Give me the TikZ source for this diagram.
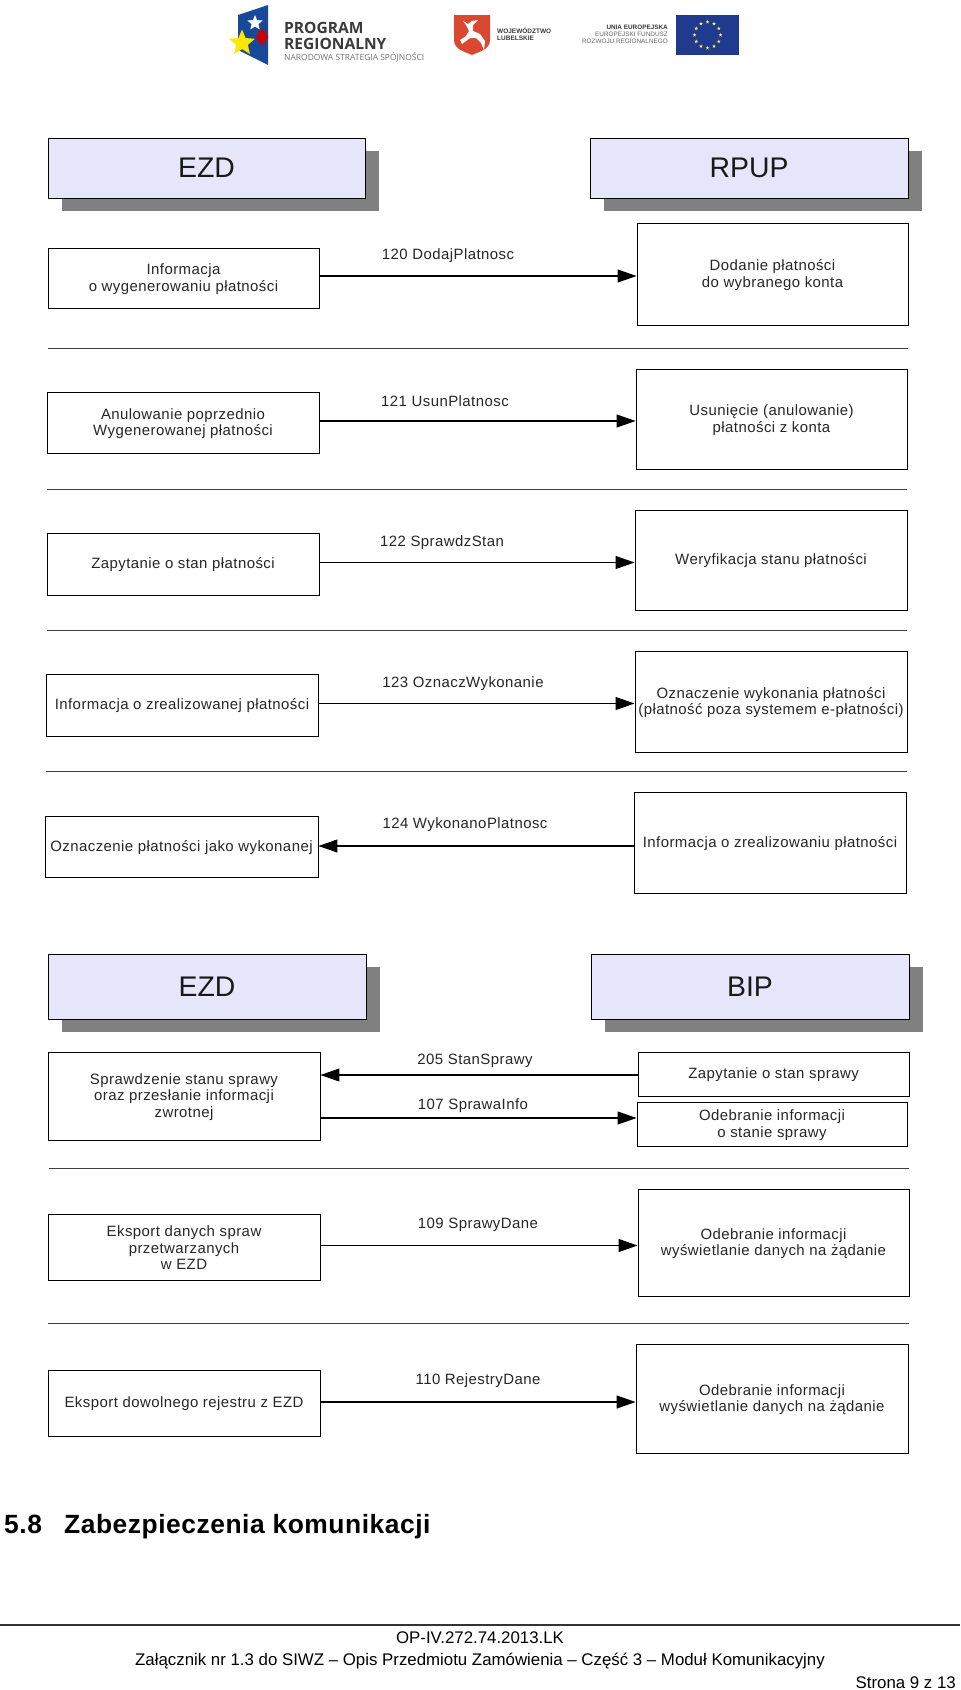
\documentclass[tikz,border=0pt]{standalone}
\usepackage{fontspec}
\setmainfont{Liberation Sans}
\newfontfamily\logofont{Open Sans}
\newfontfamily\diafont[LetterSpace=3]{Liberation Sans}
\newfontfamily\headfont[LetterSpace=2]{Liberation Sans}
\usetikzlibrary{arrows.meta,fit,shapes.geometric}
\definecolor{hdrfill}{HTML}{E6E6FA}
\definecolor{shadowgray}{HTML}{808080}
\definecolor{eublue}{HTML}{1F3A8F}
\definecolor{flagblue}{HTML}{17489A}
\definecolor{lubred}{HTML}{D9482F}
\definecolor{logotext}{HTML}{3A3A3A}
\tikzset{
  boxstyle/.style={draw=black,line width=0.9bp,fill=white,inner sep=0pt},
  boxtext/.style={inner sep=0pt,align=center,text=black!85,yshift=-1bp,font=\diafont\fontsize{15}{16.5}\selectfont},
  hdrstyle/.style={draw=black,line width=0.9bp,fill=hdrfill,inner sep=0pt},
  hdrtext/.style={inner sep=0pt,text=black!90,font=\fontsize{28.5}{30}\selectfont},
  shadowstyle/.style={fill=shadowgray,draw=none},
  flow/.style={line width=1.1bp,-{Triangle[length=19bp,width=13bp]}},
  sep/.style={line width=1bp,draw=black!75},
  lbl/.style={font=\diafont\fontsize{15}{16}\selectfont,inner sep=0pt,text=black!85},
  eustar/.style={star,star points=5,star point ratio=2.3,fill=yellow!70!white,draw=none,inner sep=0pt,minimum size=3.8bp},
}
\newcommand{\bx}[6]{%
  \coordinate (#1a) at (#2,#3);\coordinate (#1b) at (#4,#5);
  \node[boxstyle,fit=(#1a)(#1b)] (#1) {};
  \node[boxtext] (#1t) at (#1.center) {#6};}
\newcommand{\hdr}[6]{%
  \fill[shadowstyle] (#2+14,#3+13) rectangle (#4+14,#5+13);
  \coordinate (#1a) at (#2,#3);\coordinate (#1b) at (#4,#5);
  \node[hdrstyle,fit=(#1a)(#1b)] (#1) {};
  \node[hdrtext] (#1t) at (#1.center) {#6};}
\begin{document}
\begin{tikzpicture}[x=1bp,y=-1bp]
\useasboundingbox (0,0) rectangle (960,1690);
\fill[white] (0,0) rectangle (960,1690);
% logos
\fill[flagblue] (238,15) -- (268,5) -- (268,65) -- (238,50) -- cycle;
\node[star,star points=5,star point ratio=2.2,fill=white,draw=none,inner sep=0pt,minimum size=16bp] (st1) at (255,23) {};
\node[diamond,fill=red!80!black,draw=none,inner sep=0pt,minimum width=13bp,minimum height=18bp] (st2) at (262,37) {};
\node[star,star points=5,star point ratio=2.2,fill=yellow!90!orange,draw=none,inner sep=0pt,minimum size=27bp] (st3) at (242,43) {};
\node[anchor=base west,inner sep=0pt,text=logotext,font=\logofont\fontsize{15.6}{17}\selectfont] (lg1) at (284,33) {\textbf{PROGRAM}};
\node[anchor=base west,inner sep=0pt,text=logotext,font=\logofont\fontsize{15.6}{17}\selectfont] (lg2) at (284,49) {\textbf{REGIONALNY}};
\node[anchor=base west,inner sep=0pt,text=black!55,font=\logofont\fontsize{8.5}{9}\selectfont] (lg3) at (284,60) {NARODOWA STRATEGIA SPÓJNOŚCI};
\fill[lubred] (454,15) -- (490,15) -- (490,40) .. controls (490,50) and (478,52) .. (472,55) .. controls (466,52) and (454,50) .. (454,40) -- cycle;
\fill[white] (460,40) -- (466,36) -- (469,31) -- (466,25) -- (463,21) -- (468,24) -- (472,21) -- (478,20) -- (473,25) -- (473,31) -- (480,34) -- (485,41) -- (484,50) -- (481,43) -- (476,38) -- (470,38) -- (462,44) -- cycle;
\node[anchor=base west,inner sep=0pt,font=\bfseries\fontsize{6.5}{7}\selectfont,text=logotext] (lg4) at (497,33) {WOJEWÓDZTWO};
\node[anchor=base west,inner sep=0pt,font=\bfseries\fontsize{6.5}{7}\selectfont,text=logotext] (lg5) at (497,40) {LUBELSKIE};
\node[anchor=base east,inner sep=0pt,font=\bfseries\fontsize{6.4}{7}\selectfont,text=logotext] (lg6) at (668,29) {UNIA EUROPEJSKA};
\node[anchor=base east,inner sep=0pt,font=\fontsize{6.4}{7}\selectfont,text=black!60] (lg7) at (668,36) {EUROPEJSKI FUNDUSZ};
\node[anchor=base east,inner sep=0pt,font=\fontsize{6.4}{7}\selectfont,text=black!60] (lg8) at (668,43) {ROZWOJU REGIONALNEGO};
\fill[eublue] (676,15) rectangle (739,55);
\foreach \a in {0,30,...,330}{\node[eustar] (eu\a) at ({707.5+13*cos(\a)},{35+13*sin(\a)}) {};}
% first diagram
\hdr{h1}{48}{138}{365}{198}{EZD}
\hdr{h2}{590}{138}{908}{198}{RPUP}
\bx{a1}{48}{248}{319}{308}{Informacja\\o wygenerowaniu płatności}
\bx{b1}{637}{223}{908}{325}{Dodanie płatności\\do wybranego konta}
\draw[flow] (a1.east|-0,276) -- (b1.west|-0,276);
\node[lbl] (l1) at (448,256) {120 DodajPlatnosc};
\draw[sep] (48,348) coordinate (s1a) -- (908,348) coordinate (s1b);
\bx{a2}{47}{392}{319}{453}{Anulowanie poprzednio\\Wygenerowanej płatności}
\bx{b2}{636}{369}{907}{469}{Usunięcie (anulowanie)\\płatności z konta}
\draw[flow] (a2.east|-0,421) -- (b2.west|-0,421);
\node[lbl] (l2) at (445,401) {121 UsunPlatnosc};
\draw[sep] (47,489) coordinate (s2a) -- (907,489) coordinate (s2b);
\bx{a3}{47}{533}{319}{595}{Zapytanie o stan płatności}
\bx{b3}{635}{510}{907}{610}{Weryfikacja stanu płatności}
\draw[flow] (a3.east|-0,562.5) -- (b3.west|-0,562.5);
\node[lbl] (l3) at (442,543) {122 SprawdzStan};
\draw[sep] (47,630) coordinate (s3a) -- (907,630) coordinate (s3b);
\bx{a4}{46}{674}{318}{736}{Informacja o zrealizowanej płatności}
\bx{b4}{635}{651}{907}{752}{Oznaczenie wykonania płatności\\(płatność poza systemem e-płatności)}
\draw[flow] (a4.east|-0,703.5) -- (b4.west|-0,703.5);
\node[lbl] (l4) at (463,684) {123 OznaczWykonanie};
\draw[sep] (46,771) coordinate (s4a) -- (907,771) coordinate (s4b);
\bx{a5}{45}{816}{318}{877}{Oznaczenie płatności jako wykonanej}
\bx{b5}{634}{792}{906}{893}{Informacja o zrealizowaniu płatności}
\draw[flow] (b5.west|-0,846) -- (a5.east|-0,846);
\node[lbl] (l5) at (465,825) {124 WykonanoPlatnosc};
% second diagram
\hdr{h3}{48}{954}{366}{1019}{EZD}
\hdr{h4}{591}{954}{909}{1019}{BIP}
\bx{a6}{48}{1052}{320}{1140}{Sprawdzenie stanu sprawy\\oraz przesłanie informacji\\zwrotnej}
\bx{b6}{638}{1052}{909}{1096}{Zapytanie o stan sprawy}
\bx{c6}{637}{1102}{907}{1146}{Odebranie informacji\\o stanie sprawy}
\draw[flow] (b6.west|-0,1075) -- (a6.east|-0,1075);
\draw[flow] (a6.east|-0,1118) -- (c6.west|-0,1118);
\node[lbl] (l6) at (475,1061) {205 StanSprawy};
\node[lbl] (l7) at (473,1106) {107 SprawaInfo};
\draw[sep] (49,1168) coordinate (s5a) -- (909,1168) coordinate (s5b);
\bx{a7}{48}{1214}{320}{1280}{Eksport danych spraw\\przetwarzanych\\w EZD}
\bx{b7}{638}{1189}{909}{1296}{Odebranie informacji\\wyświetlanie danych na żądanie}
\draw[flow] (a7.east|-0,1245.5) -- (b7.west|-0,1245.5);
\node[lbl] (l8) at (478,1225) {109 SprawyDane};
\draw[sep] (48,1323) coordinate (s6a) -- (909,1323) coordinate (s6b);
\bx{a8}{48}{1370}{320}{1436}{Eksport dowolnego rejestru z EZD}
\bx{b8}{636}{1344}{908}{1453}{Odebranie informacji\\wyświetlanie danych na żądanie}
\draw[flow] (a8.east|-0,1402) -- (b8.west|-0,1402);
\node[lbl] (l9) at (478,1381) {110 RejestryDane};
% page text
\node[anchor=base west,inner sep=0pt,font=\headfont\bfseries\fontsize{26.5}{30}\selectfont] (t1) at (4,1533) {5.8};
\node[anchor=base west,inner sep=0pt,font=\headfont\bfseries\fontsize{26.5}{30}\selectfont] (t2) at (64,1533) {Zabezpieczenia komunikacji};
\draw[line width=1.2bp,draw=black!80] (0,1625) coordinate (fa) -- (960,1625) coordinate (fb);
\node[inner sep=0pt,font=\fontsize{16.9}{18}\selectfont] (f1) at (480,1638) {OP-IV.272.74.2013.LK};
\node[inner sep=0pt,font=\fontsize{16.9}{18}\selectfont] (f2) at (480,1661.5) {Załącznik nr 1.3 do SIWZ – Opis Przedmiotu Zamówienia – Część 3 – Moduł Komunikacyjny};
\node[anchor=base east,inner sep=0pt,font=\fontsize{16.9}{18}\selectfont] (f3) at (956,1688) {Strona 9 z 13};
\end{tikzpicture}
\end{document}
